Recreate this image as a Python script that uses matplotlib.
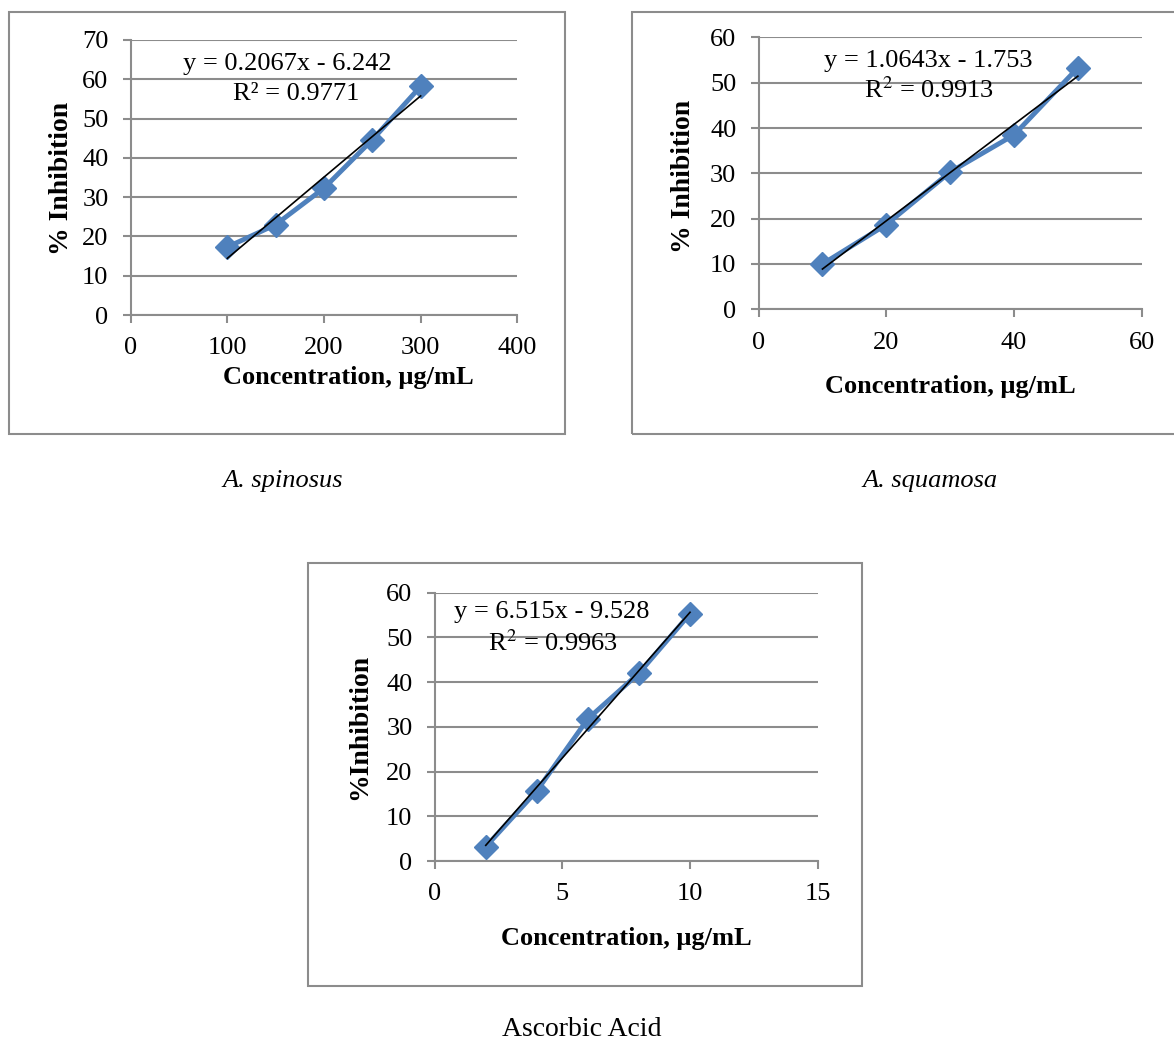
import numpy as np
import matplotlib
matplotlib.use("Agg")
import matplotlib.pyplot as plt
from matplotlib.patches import Rectangle

# data
spin_x = [100, 150, 200, 250, 300]
spin_y = [17.3, 23.0, 32.3, 44.6, 58.2]
squa_x = [10, 20, 30, 40, 50]
squa_y = [10.0, 18.7, 30.3, 38.5, 53.3]
asc_x = [2, 4, 6, 8, 10]
asc_y = [3.2, 15.7, 31.8, 42.0, 55.3]

# trendline coefficients printed on the charts
slopes = [0.2067, 1.0643, 6.515]
intercepts = [-6.242, -1.753, -9.528]
r2 = [0.9771, 0.9913, 0.9963]

plt.rcParams['font.family'] = ['Liberation Serif', 'DejaVu Serif']
plt.rcParams['mathtext.fontset'] = 'stix'
W, H = 1174, 1043
fig = plt.figure(figsize=(W / 100, H / 100), dpi=100)

def pos(x0, x1, y0, y1):
    return [x0 / W, 1 - y1 / H, (x1 - x0) / W, (y1 - y0) / H]

def ftext(x, y, s, **kw):
    fig.text(x / W, 1 - y / H, s, ha='center', va='center', **kw)

blue = '#4F81BD'
grey = '#8C8C8C'

# frames around each chart
for (x0, x1, y0, y1) in [(9, 565, 12, 434), (632, 1185, 12, 434), (308, 862, 563, 986)]:
    fig.patches.append(Rectangle((x0 / W, 1 - y1 / H), (x1 - x0) / W, (y1 - y0) / H,
                                 transform=fig.transFigure, fill=False,
                                 edgecolor=grey, lw=1.5, clip_on=False))

charts = [
    (spin_x, spin_y, pos(130.7, 517.3, 40, 315), (0, 400), 100, (0, 70), 10, 0),
    (squa_x, squa_y, pos(758.6, 1141.7, 37.5, 309.3), (0, 60), 20, (0, 60), 10, 1),
    (asc_x, asc_y, pos(434.7, 817.7, 592.7, 861), (0, 15), 5, (0, 60), 10, 2),
]

for xs, ys, rect, xl, xs_step, yl, ys_step, i in charts:
    ax = fig.add_axes(rect)
    ax.set_xlim(*xl)
    ax.set_ylim(*yl)
    ax.set_xticks(np.arange(xl[0], xl[1] + 1, xs_step))
    ax.set_yticks(np.arange(yl[0], yl[1] + 1, ys_step))
    ax.yaxis.grid(True, color=grey, lw=1.5)
    ax.set_axisbelow(True)
    for s in ['top', 'right']:
        ax.spines[s].set_visible(False)
    for s in ['left', 'bottom']:
        ax.spines[s].set_color(grey)
        ax.spines[s].set_linewidth(1.5)
    ax.tick_params(axis='both', colors=grey, length=6, width=1.5, labelsize=19,
                   labelcolor='black', direction='out')
    ax.tick_params(axis='x', pad=10)
    ax.tick_params(axis='y', pad=10)
    ax.plot(xs, ys, color=blue, lw=3.5, marker='D', markersize=12, zorder=3,
            clip_on=False)
    tx = np.array([xs[0], xs[-1]])
    ax.plot(tx, slopes[i] * tx + intercepts[i], color='black', lw=1.2, zorder=4)

# trendline labels
ftext(287, 64, f"y = {slopes[0]}x - {-intercepts[0]}", fontsize=19)
ftext(296, 94, f"R² = {r2[0]}", fontsize=19)
ftext(928, 61, f"y = {slopes[1]}x - {-intercepts[1]}", fontsize=19)
ftext(929, 90, f"R$^2$ = {r2[1]}", fontsize=19)
ftext(552, 612, f"y = {slopes[2]}x - {-intercepts[2]}", fontsize=19)
ftext(553, 643, f"R$^2$ = {r2[2]}", fontsize=19)

# axis titles
ftext(348, 378, "Concentration, μg/mL", fontsize=19, fontweight='bold')
ftext(950, 386, "Concentration, μg/mL", fontsize=19, fontweight='bold')
ftext(626, 938, "Concentration, μg/mL", fontsize=19, fontweight='bold')
ftext(62, 178, "% Inhibition", fontsize=20, fontweight='bold', rotation=90)
ftext(684, 176, "% Inhibition", fontsize=20, fontweight='bold', rotation=90)
ftext(360, 727, "%Inhibition", fontsize=20, fontweight='bold', rotation=90)

# captions
ftext(283, 481, "A. spinosus", fontsize=19, style='italic')
ftext(930, 481, "A. squamosa", fontsize=19, style='italic')
ftext(582, 1030, "Ascorbic Acid", fontsize=20)

plt.savefig("out.png", dpi=100)
